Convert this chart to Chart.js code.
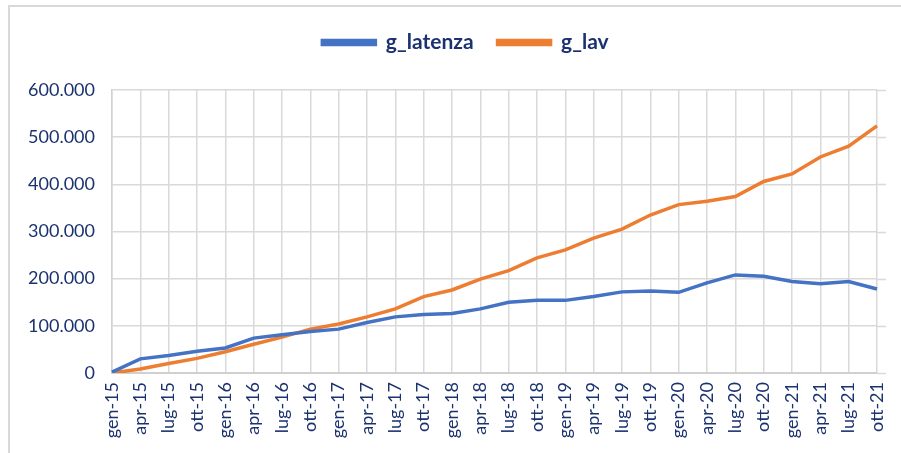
<!DOCTYPE html>
<html>
<head>
<meta charset="utf-8">
<script src="https://cdn.jsdelivr.net/npm/chart.js@4/dist/chart.umd.min.js"></script>
<style>
html,body{margin:0;padding:0;background:#fff;}
#wrap{position:absolute;left:0;top:0;width:901px;height:453px;}
</style>
</head>
<body>
<div id="wrap"><canvas id="c" width="901" height="453"></canvas></div>
<script>
const categories = ["gen-15","apr-15","lug-15","ott-15","gen-16","apr-16","lug-16","ott-16",
  "gen-17","apr-17","lug-17","ott-17","gen-18","apr-18","lug-18","ott-18",
  "gen-19","apr-19","lug-19","ott-19","gen-20","apr-20","lug-20","ott-20",
  "gen-21","apr-21","lug-21","ott-21"];
const gLatenza = [2000,30000,37000,46000,53000,74000,81000,88000,
  93000,107000,119000,124000,126000,136000,150000,154000,
  154000,162000,172000,174000,171000,191000,208000,205000,
  194000,189000,194000,178000];
const gLav = [0,8500,20000,31000,45000,61000,76000,93000,
  104000,119000,136000,162000,176000,199000,217000,244000,
  261000,286000,305000,335000,357000,364000,374000,406000,
  422000,458000,481000,524000];
const yTicks = [0,100000,200000,300000,400000,500000,600000];

const navy = "#1B3270";
const FONT = "Lato, 'Open Sans', sans-serif";
const fmt = v => String(v).replace(/\B(?=(\d{3})+(?!\d))/g, ".");

const framePlugin = {
  id: "frame",
  beforeInit(chart) {
    const orig = chart.legend.fit;
    chart.legend.fit = function() { orig.call(this); this.height += 27; };
  },
  afterUpdate(chart) {
    if (chart.legend) { chart.legend.left += 22; chart.legend.right += 22; }
  },
  beforeDraw(chart) {
    const ctx = chart.ctx;
    ctx.save();
    ctx.fillStyle = "#fff";
    ctx.fillRect(0,0,chart.width,chart.height);
    ctx.strokeStyle = "#d9d9d9";
    ctx.lineWidth = 2;
    ctx.beginPath();
    ctx.moveTo(9, chart.height + 2);
    ctx.lineTo(9, 6);
    ctx.lineTo(chart.width + 2, 6);
    ctx.stroke();
    ctx.restore();
  },
  beforeDatasetsDraw(chart) {
    const ctx = chart.ctx, ya = chart.scales.y, area = chart.chartArea;
    ctx.save();
    ctx.strokeStyle = "#d9d9d9";
    ctx.lineWidth = 1.5;
    yTicks.forEach(v => {
      const y = Math.round(ya.getPixelForValue(v)) + 0.5;
      ctx.beginPath();
      ctx.moveTo(area.right, y);
      ctx.lineTo(area.right + 9, y);
      ctx.stroke();
    });
    ctx.restore();
  }
};

new Chart(document.getElementById("c"), {
  type: "line",
  data: {
    labels: categories,
    datasets: [
      {label: "g_latenza", data: gLatenza, borderColor: "#4472C4", backgroundColor: "#4472C4",
       borderWidth: 3.5, pointRadius: 0, tension: 0, fill: false},
      {label: "g_lav", data: gLav, borderColor: "#ED7D31", backgroundColor: "#ED7D31",
       borderWidth: 3.5, pointRadius: 0, tension: 0, fill: false}
    ]
  },
  options: {
    responsive: false,
    animation: false,
    layout: {padding: {left: 10, right: 24, top: 8, bottom: 0}},
    plugins: {
      legend: {
        position: "top",
        labels: {
          boxWidth: 53, boxHeight: 4, padding: 24,
          color: navy,
          font: {family: FONT, size: 21, weight: "bold"}
        }
      },
      tooltip: {enabled: false}
    },
    scales: {
      x: {
        offset: false,
        grid: {color: "#d9d9d9", lineWidth: 1.5, drawTicks: false},
        border: {color: "#d0d0d0", width: 2},
        ticks: {
          color: navy, maxRotation: 90, minRotation: 90, autoSkip: false, padding: 9,
          font: {family: FONT, size: 18}
        },
        afterFit(s) { s.height = 80; s.paddingLeft = 0; s.paddingRight = 0; }
      },
      y: {
        min: 0, max: 600000,
        afterBuildTicks(s) { s.ticks = yTicks.map(v => ({value: v})); },
        grid: {color: "#d9d9d9", lineWidth: 1.5, drawTicks: false},
        border: {color: "#d0d0d0", width: 1.5},
        ticks: {
          color: navy, padding: 17,
          font: {family: FONT, size: 18},
          callback: v => fmt(v)
        },
        afterFit(s) { s.width = 102; }
      }
    }
  },
  plugins: [framePlugin]
});
</script>
</body>
</html>
